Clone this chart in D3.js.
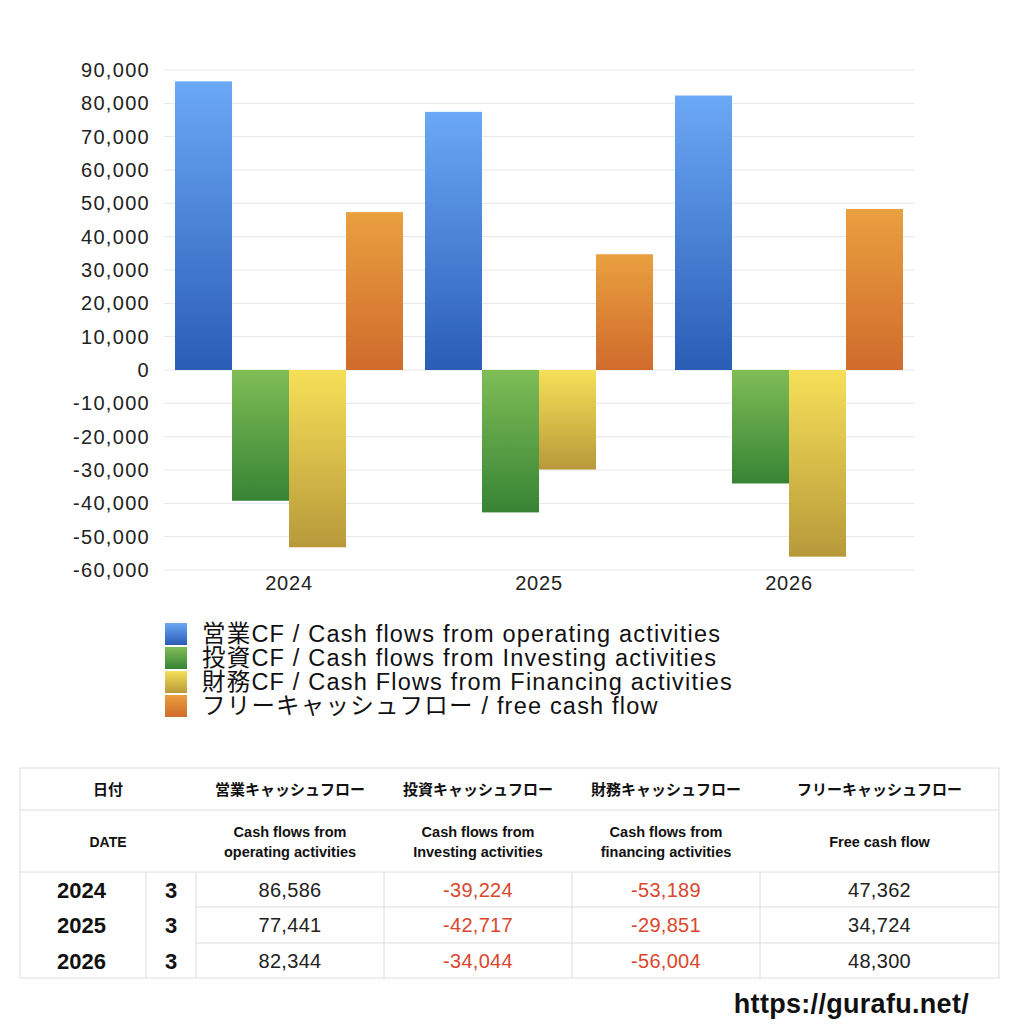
<!DOCTYPE html>
<html>
<head>
<meta charset="utf-8">
<script src="https://cdn.jsdelivr.net/npm/d3@7"></script>
<style>
  body { margin: 0; background: #fff; }
  svg text { font-family: "Liberation Sans", "Noto Sans CJK JP", sans-serif; }
</style>
</head>
<body>
<svg id="chart" width="1024" height="1024"></svg>
<script>
// data
const years = ["2024", "2025", "2026"];
const months = ["3", "3", "3"];
const operating = [86586, 77441, 82344];
const investing = [-39224, -42717, -34044];
const financing = [-53189, -29851, -56004];
const freeCF = [47362, 34724, 48300];
const seriesNames = [
  "営業CF / Cash flows from operating activities",
  "投資CF / Cash flows from Investing activities",
  "財務CF / Cash Flows from Financing activities",
  "フリーキャッシュフロー / free cash flow"
];
const headJa = ["営業キャッシュフロー", "投資キャッシュフロー", "財務キャッシュフロー", "フリーキャッシュフロー"];
const headEn = [["Cash flows from", "operating activities"], ["Cash flows from", "Investing activities"],
                ["Cash flows from", "financing activities"], ["Free cash flow"]];
const yTicks = [90000, 80000, 70000, 60000, 50000, 40000, 30000, 20000, 10000, 0,
                -10000, -20000, -30000, -40000, -50000, -60000];

const seriesValues = [operating, investing, financing, freeCF];
// gradient stops: top, bottom
const grads = [["#6ba8f5", "#2a5db6"], ["#7fbd56", "#378435"], ["#f6e058", "#b8993a"], ["#e9a03f", "#d06b2c"]];

const fmt = d3.formatLocale({decimal: ".", thousands: ",", grouping: [3], currency: ["", ""], minus: "-"}).format(",");
const jaFont = "'Noto Sans CJK JP', 'Liberation Sans', sans-serif";

const svg = d3.select("#chart");
const defs = svg.append("defs");
grads.forEach(function(g, i) {
  const lg = defs.append("linearGradient").attr("id", "g" + i)
      .attr("x1", 0).attr("y1", 0).attr("x2", 0).attr("y2", 1);
  lg.append("stop").attr("offset", "0%").attr("stop-color", g[0]);
  lg.append("stop").attr("offset", "100%").attr("stop-color", g[1]);
});

const margin = {left: 164, top: 70};
const width = 750, height = 500;
const g = svg.append("g").attr("transform", "translate(" + margin.left + "," + margin.top + ")");

const x0 = d3.scaleBand().domain(years).range([0, width]);
const x1 = d3.scaleBand().domain(d3.range(4)).range([11, x0.bandwidth() - 11]);
const y = d3.scaleLinear().domain([-60000, 90000]).range([height, 0]);

// gridlines
g.selectAll("line.grid").data(yTicks).enter().append("line")
    .attr("x1", 0).attr("x2", width)
    .attr("y1", d => y(d)).attr("y2", d => y(d))
    .attr("stroke", "#e6e6e6").attr("stroke-width", 1);

// y axis labels
const yAxis = d3.axisLeft(y).tickValues(yTicks).tickSize(0).tickPadding(14).tickFormat(fmt);
g.append("g").call(yAxis)
  .call(s => s.select(".domain").remove())
  .selectAll("text").attr("font-size", 20).attr("fill", "#222")
  .style("font-family", "'Liberation Sans', sans-serif").style("letter-spacing", "1.3px");

// x axis labels
const xAxis = d3.axisBottom(x0).tickSize(0).tickPadding(6);
g.append("g").attr("transform", "translate(0," + height + ")").call(xAxis)
  .call(s => s.select(".domain").remove())
  .selectAll("text").attr("font-size", 20).attr("fill", "#222")
  .style("font-family", "'Liberation Sans', sans-serif").style("letter-spacing", "0.8px");

// bars
const groups = g.selectAll("g.year").data(years).enter().append("g")
    .attr("transform", d => "translate(" + x0(d) + ",0)");
groups.selectAll("rect").data((d, yi) => seriesValues.map((s, si) => ({si: si, v: s[yi]})))
  .enter().append("rect")
    .attr("x", d => x1(d.si))
    .attr("width", x1.bandwidth())
    .attr("y", d => y(Math.max(0, d.v)))
    .attr("height", d => Math.abs(y(d.v) - y(0)))
    .attr("fill", d => "url(#g" + d.si + ")");

// legend
const legend = svg.append("g").attr("transform", "translate(165,623)");
seriesNames.forEach(function(name, i) {
  const row = legend.append("g").attr("transform", "translate(0," + (i * 24) + ")");
  row.append("rect").attr("width", 22).attr("height", 22).attr("fill", "url(#g" + i + ")");
  row.append("text").attr("x", 37).attr("y", 19).attr("font-size", 23.5).attr("fill", "#111")
    .style("letter-spacing", "1.2px").text(name);
});

// table
const tb = svg.append("g");
const tLeft = 20, tRight = 999, tTop = 768;
const colX = [20, 146, 196, 384, 572, 760, 999];
const rowY = [768, 810, 872, 907, 943, 978];
const lineColor = "#dedede";

tb.append("rect").attr("x", tLeft).attr("y", tTop).attr("width", tRight - tLeft)
  .attr("height", rowY[5] - tTop).attr("fill", "none").attr("stroke", lineColor);
tb.append("line").attr("x1", tLeft).attr("x2", tRight).attr("y1", rowY[1]).attr("y2", rowY[1]).attr("stroke", lineColor);
tb.append("line").attr("x1", tLeft).attr("x2", tRight).attr("y1", rowY[2]).attr("y2", rowY[2]).attr("stroke", lineColor);
[rowY[3], rowY[4]].forEach(function(yy) {
  tb.append("line").attr("x1", colX[2]).attr("x2", tRight).attr("y1", yy).attr("y2", yy).attr("stroke", lineColor);
});
colX.slice(1, 6).forEach(function(xx) {
  tb.append("line").attr("x1", xx).attr("x2", xx).attr("y1", rowY[2]).attr("y2", rowY[5]).attr("stroke", lineColor);
});

// header row 1
tb.append("text").attr("x", (colX[0] + colX[2]) / 2).attr("y", 795).attr("text-anchor", "middle")
  .attr("font-size", 15).attr("font-weight", "bold").attr("fill", "#111").style("font-family", jaFont).text("日付");
headJa.forEach(function(h, i) {
  tb.append("text").attr("x", (colX[i + 2] + colX[i + 3]) / 2).attr("y", 795).attr("text-anchor", "middle")
    .attr("font-size", 15).attr("font-weight", "bold").attr("fill", "#111").style("font-family", jaFont).text(h);
});
// header row 2
tb.append("text").attr("x", (colX[0] + colX[2]) / 2).attr("y", 847).attr("text-anchor", "middle")
  .attr("font-size", 14).attr("font-weight", "bold").attr("fill", "#111").text("DATE");
headEn.forEach(function(lines, i) {
  const cx = (colX[i + 2] + colX[i + 3]) / 2;
  lines.forEach(function(l, li) {
    const yy = lines.length === 1 ? 847 : 837 + li * 20;
    tb.append("text").attr("x", cx).attr("y", yy).attr("text-anchor", "middle")
      .attr("font-size", 14.5).attr("font-weight", "bold").attr("fill", "#111").text(l);
  });
});
// data rows
years.forEach(function(yr, r) {
  const cy = (rowY[r + 2] + rowY[r + 3]) / 2 + 8;
  tb.append("text").attr("x", 57).attr("y", cy).attr("font-size", 22).attr("font-weight", "bold")
    .attr("fill", "#111").text(yr);
  tb.append("text").attr("x", (colX[1] + colX[2]) / 2).attr("y", cy).attr("text-anchor", "middle")
    .attr("font-size", 22).attr("font-weight", "bold").attr("fill", "#111").text(months[r]);
  seriesValues.forEach(function(s, i) {
    const v = s[r];
    tb.append("text").attr("x", (colX[i + 2] + colX[i + 3]) / 2).attr("y", cy - 1).attr("text-anchor", "middle")
      .attr("font-size", 20).attr("fill", v < 0 ? "#d9472d" : "#222").style("letter-spacing", "0.3px").text(fmt(v));
  });
});

svg.append("text").attr("x", 969).attr("y", 1013).attr("text-anchor", "end")
  .attr("font-size", 27).attr("font-weight", "bold").attr("fill", "#111")
  .style("letter-spacing", "0.3px").text("https://gurafu.net/");
</script>
</body>
</html>
